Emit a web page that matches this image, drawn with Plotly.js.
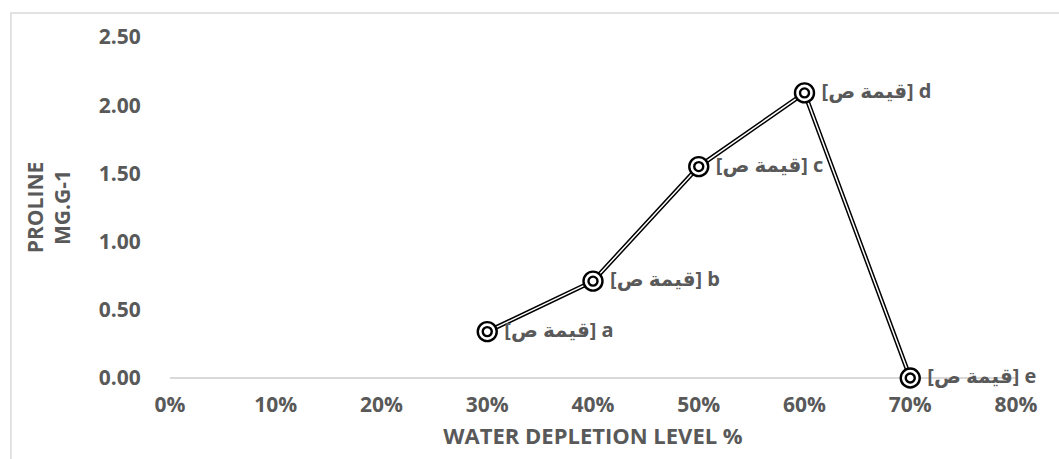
<!DOCTYPE html>
<html>
<head>
<meta charset="utf-8">
<script src="https://cdn.plot.ly/plotly-3.0.1.min.js"></script>
<style>html,body{margin:0;padding:0;background:#fff;}#chart{width:1059px;height:459px;}</style>
</head>
<body>
<div id="chart"></div>
<script>
const depletionLevels = [0.30, 0.40, 0.50, 0.60, 0.70];
const prolineValues = [0.34, 0.71, 1.55, 2.09, 0.00];
const pointLetters = ['a', 'b', 'c', 'd', 'e'];
const labelPlaceholder = '[قيمة ص]';
const xTickValues = [0, 0.1, 0.2, 0.3, 0.4, 0.5, 0.6, 0.7, 0.8];
const yTickValues = [0, 0.5, 1.0, 1.5, 2.0, 2.5];

const gray = '#595959';
const fontFam = '"Open Sans", "DejaVu Sans", sans-serif';
const labels = pointLetters.map(l => '\u00A0\u00A0\u200E' + labelPlaceholder + ' ' + l);
const axisFont = {family: fontFam, size: 21, color: gray, weight: 'bold'};
const xTitleFont = {family: fontFam, size: 22, color: gray, weight: 'bold'};

const traces = [
  {x: depletionLevels, y: prolineValues, mode: 'lines', line: {color: '#000', width: 4.5}, hoverinfo: 'skip', cliponaxis: false},
  {x: depletionLevels, y: prolineValues, mode: 'lines', line: {color: '#fff', width: 1.5}, hoverinfo: 'skip', cliponaxis: false},
  {x: depletionLevels, y: prolineValues, mode: 'markers', marker: {symbol: 'circle', size: 19, color: '#fff', line: {color: '#000', width: 2.4}}, cliponaxis: false},
  {x: depletionLevels, y: prolineValues, mode: 'markers+text', text: labels, textposition: 'middle right',
   textfont: {family: fontFam, size: 20, color: gray, weight: 'bold'},
   marker: {symbol: 'circle', size: 9, color: '#fff', line: {color: '#000', width: 2.4}}, cliponaxis: false}
];

const layout = {
  width: 1059, height: 459,
  margin: {l: 170, r: 43, t: 37, b: 81},
  paper_bgcolor: '#fff', plot_bgcolor: '#fff',
  showlegend: false,
  font: {family: fontFam, color: gray, size: 21},
  xaxis: {
    range: [0, 0.8], tickvals: xTickValues, tickformat: '.0%',
    showgrid: false, zeroline: false, showline: false,
    ticks: 'outside', ticklen: 8, tickcolor: 'rgba(0,0,0,0)',
    tickfont: axisFont,
    title: {text: 'WATER DEPLETION LEVEL %', standoff: 11, font: xTitleFont},
    automargin: false
  },
  yaxis: {
    range: [0, 2.5], tickvals: yTickValues, tickformat: '.2f',
    showgrid: false, zeroline: true, zerolinecolor: '#d9d9d9', zerolinewidth: 1.5, showline: false,
    ticks: 'outside', ticklen: 24, tickcolor: 'rgba(0,0,0,0)',
    tickfont: axisFont,
    title: {text: 'PROLINE<br>MG.G-1', standoff: 22, font: axisFont},
    automargin: false
  },
  shapes: [{type: 'rect', xref: 'paper', yref: 'paper', x0: -0.188, x1: 1.3, y0: -0.4, y1: 1.0704,
            line: {color: '#d9d9d9', width: 1.5}, layer: 'below'}]
};

Plotly.newPlot('chart', traces, layout, {displayModeBar: false, staticPlot: true});
</script>
</body>
</html>
